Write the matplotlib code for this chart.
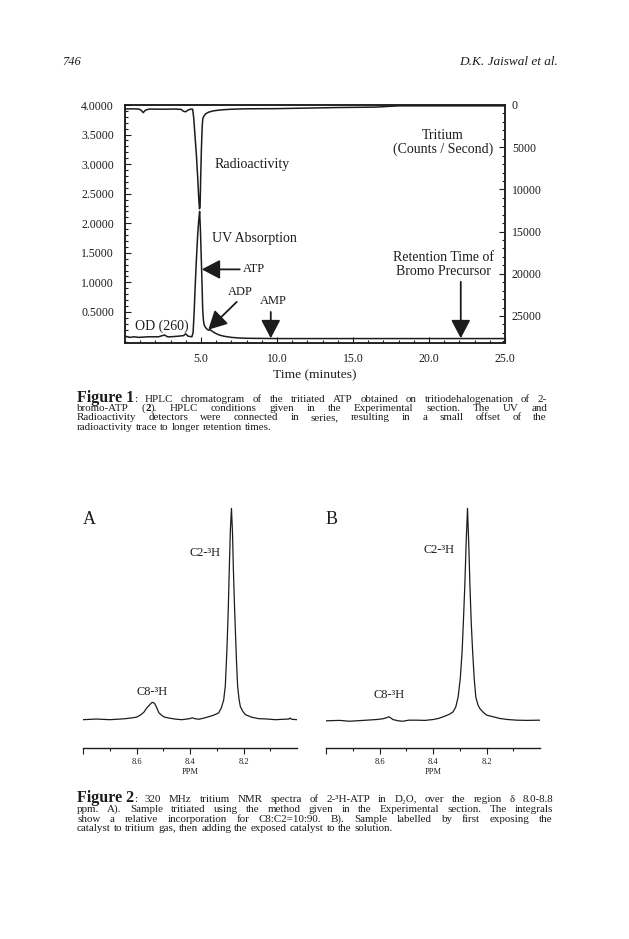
import matplotlib
matplotlib.use('Agg')
import matplotlib.pyplot as plt
from matplotlib.ticker import MultipleLocator, FixedLocator, FormatStrFormatter
from matplotlib.transforms import IdentityTransform

# ---------------- data ----------------
# Figure 1: HPLC, UV trace (OD 260, left axis)
uv_time = [0.0, 0.3, 0.6, 0.9, 1.5, 2.2, 2.6, 2.8, 3.0, 3.5, 3.85, 4.0, 4.15, 4.4,
           4.48, 4.55, 4.62, 4.7, 4.78, 4.85, 4.91, 4.96, 5.02, 5.07, 5.11, 5.16,
           5.22, 5.35, 5.5, 5.6, 5.75, 5.95, 6.2, 6.5, 7.0, 7.5, 8.0, 10.0, 15.0,
           20.0, 25.0]
uv_od = [0.09, 0.07, 0.08, 0.07, 0.08, 0.08, 0.11, 0.08, 0.08, 0.09, 0.10, 0.13,
         0.09, 0.08, 0.15, 0.50, 0.95, 1.40, 1.80, 2.05, 2.20, 1.90, 1.40, 0.95,
         0.55, 0.36, 0.27, 0.22, 0.19, 0.20, 0.17, 0.14, 0.11, 0.09, 0.07, 0.06,
         0.055, 0.05, 0.05, 0.05, 0.05]

# radioactivity trace (counts / second, right axis, inverted)
rad_time = [0.0, 0.5, 0.9, 1.05, 1.2, 1.35, 1.6, 2.5, 3.3, 3.7, 3.85, 4.0, 4.15,
            4.35, 4.45, 4.52, 4.6, 4.7, 4.78, 4.85, 4.9, 4.94, 4.98, 5.03, 5.08,
            5.12, 5.2, 5.3, 5.5, 5.8, 6.3, 7.0, 8.0, 10.0, 14.0, 16.5, 18.0, 25.0]
rad_counts = [480, 450, 480, 600, 900, 600, 480, 500, 480, 520, 750, 800, 600,
              480, 500, 1500, 3500, 6000, 8500, 11000, 12300, 12000, 8500, 5000,
              2500, 1600, 1300, 1050, 850, 700, 580, 500, 450, 430, 300, 250, 100,
              100]

od_ticks = [0.5, 1.0, 1.5, 2.0, 2.5, 3.0, 3.5, 4.0]
count_ticks = [0, 5000, 10000, 15000, 20000, 25000]
time_ticks = [5, 10, 15, 20, 25]

# Figure 2: tritium NMR spectra (relative intensity, C2 peak = 100)
nmr_a_ppm = [8.80, 8.75, 8.70, 8.66, 8.64, 8.62, 8.60, 8.585, 8.572, 8.562, 8.551,
             8.544, 8.538, 8.532, 8.526, 8.516, 8.505, 8.497, 8.48, 8.466, 8.45,
             8.43, 8.40, 8.392, 8.383, 8.367, 8.35, 8.33, 8.31, 8.293, 8.283, 8.274,
             8.268, 8.262, 8.257, 8.253, 8.249, 8.245, 8.241, 8.238, 8.234, 8.230,
             8.226, 8.222, 8.217, 8.212, 8.203, 8.193, 8.17, 8.144, 8.11, 8.082,
             8.05, 8.03, 8.026, 8.02, 8.0]
nmr_a_int = [0.0, 0.3, 0.0, 0.3, 0.5, 0.8, 1.2, 2.2, 3.6, 5.5, 7.0, 8.0, 8.2, 7.6,
             6.1, 3.2, 2.0, 1.3, 0.8, 0.5, 0.2, 0.0, 0.5, 0.9, 0.5, 0.2, 0.7, 1.4,
             2.2, 3.2, 5.5, 9.4, 16.0, 33.0, 52.0, 72.0, 90.0, 100.0, 88.0, 72.0,
             55.0, 41.0, 27.0, 16.0, 10.0, 6.3, 4.0, 2.4, 1.2, 0.5, 0.3, 0.0, 0.2,
             0.3, 0.8, 0.2, 0.0]

nmr_b_ppm = [8.80, 8.75, 8.712, 8.66, 8.612, 8.59, 8.575, 8.565, 8.556, 8.55,
             8.53, 8.513, 8.49, 8.463, 8.43, 8.40, 8.38, 8.362, 8.34, 8.325, 8.315,
             8.306, 8.298, 8.291, 8.286, 8.281, 8.276, 8.271, 8.266, 8.262, 8.257,
             8.252, 8.246, 8.24, 8.232, 8.225, 8.212, 8.2, 8.15, 8.12, 8.087, 8.05,
             8.0]
nmr_b_int = [0.0, 0.2, -0.2, 0.2, 0.6, 0.9, 1.4, 1.9, 1.2, 0.6, 0.0, -0.2, 0.3,
             0.3, 0.2, 0.6, 1.1, 1.9, 3.0, 4.2, 6.5, 11.2, 20.0, 33.0, 48.0, 64.0,
             84.0, 100.0, 82.0, 64.0, 46.0, 33.0, 20.0, 11.2, 7.5, 5.8, 4.0, 2.7,
             1.1, 0.6, 0.3, 0.2, 0.3]

ppm_ticks = [8.8, 8.6, 8.4, 8.2]
ppm_labels = ['', '8.6', '8.4', '8.2']
ppm_minor = [8.7, 8.5, 8.3, 8.1]

cap1 = ['**Figure~1**:  HPLC chromatogram of the tritiated ATP obtained on tritiodehalogenation of 2-',
        'bromo-ATP (**2**).  HPLC conditions given in the Experimental section.  The UV and',
        'Radioactivity detectors were connected in series, resulting in a small offset of the',
        'radioactivity trace to longer retention times.']
cap2 = ['**Figure~2**:  320 MHz tritium NMR spectra of 2-³H-ATP in D₂O, over the region δ 8.0-8.8',
        'ppm.  A).  Sample tritiated using the method given in the Experimental section.  The integrals',
        'show a relative incorporation for C8:C2=10:90.  B).  Sample labelled by first exposing the',
        'catalyst to tritium gas, then adding the exposed catalyst to the solution.']

# ---------------- page ----------------
plt.rcParams['font.family'] = ['Liberation Serif', 'DejaVu Serif']
INK = '#1c1c1c'
W, H = 629, 939
fig = plt.figure(figsize=(W / 100, H / 100), dpi=100)


def box(l, t, r, b):
    return [l / W, 1 - b / H, (r - l) / W, (b - t) / H]


def ptext(x, y, s, **kw):
    # place text by page pixel (y measured from the top)
    return fig.text(x / W, 1 - y / H, s, color=INK, **kw)


ptext(62, 62, '746', fontsize=9, style='italic', va='center')
ptext(558, 62, 'D.K. Jaiswal et al.', fontsize=9.5, style='italic', va='center', ha='right')

############## Figure 1
ax = fig.add_axes(box(125, 105, 505, 343))
ax.plot(uv_time, uv_od, color=INK, lw=1.1)
ax.set_xlim(0, 25)
ax.set_ylim(-0.025, 4.0)
ax.set_yticks(od_ticks)
ax.yaxis.set_major_formatter(FormatStrFormatter('%.4f'))
ax.yaxis.set_minor_locator(MultipleLocator(0.1))
ax.set_xticks(time_ticks)
ax.xaxis.set_major_formatter(FormatStrFormatter('%.1f'))
ax.xaxis.set_minor_locator(MultipleLocator(1))
ax.tick_params(which='both', direction='in', labelsize=8.5, width=0.8, colors=INK)
ax.tick_params(which='major', length=4)
ax.tick_params(which='minor', length=2.5)
ax.tick_params(axis='y', pad=8)
ax.tick_params(axis='x', pad=7)
ax.set_xlabel('Time (minutes)', fontsize=9.7, labelpad=3, color=INK)
for s in ax.spines.values():
    s.set_linewidth(1.1)
    s.set_color(INK)

ax2 = ax.twinx()
ax2.plot(rad_time, rad_counts, color=INK, lw=1.1)
ax2.set_ylim(28200, 0)
ax2.set_yticks(count_ticks)
ax2.yaxis.set_minor_locator(MultipleLocator(1000))
ax2.tick_params(which='both', direction='in', labelsize=8.5, width=0.8, colors=INK, pad=5)
ax2.tick_params(which='major', length=4)
ax2.tick_params(which='minor', length=2.5)
for s in ax2.spines.values():
    s.set_linewidth(1.1)
    s.set_color(INK)

head = dict(arrowstyle='-|>,head_length=0.8,head_width=0.42', mutation_scale=14,
            lw=1.3, color=INK, shrinkA=0, shrinkB=0)
ax.annotate('', xy=(5.05, 1.22), xytext=(7.55, 1.22), arrowprops=head)
ax.annotate('', xy=(5.48, 0.2), xytext=(7.35, 0.67), arrowprops=head)
ax.annotate('', xy=(9.59, 0.055), xytext=(9.59, 0.5), arrowprops=head)
ax.annotate('', xy=(22.09, 0.055), xytext=(22.09, 1.01), arrowprops=head)

ax.text(7.75, 1.22, 'ATP', fontsize=9, va='center', color=INK)
ax.text(7.6, 0.84, 'ADP', fontsize=9, va='center', ha='center', color=INK)
ax.text(9.76, 0.69, 'AMP', fontsize=9, va='center', ha='center', color=INK)
ax.text(20.94, 1.30, 'Retention Time of\nBromo Precursor', fontsize=10, va='center',
        ha='center', linespacing=1.1, color=INK)
ax.text(20.9, 3.37, 'Tritium\n(Counts / Second)', fontsize=10, va='center',
        ha='center', linespacing=1.05, color=INK)
ax.text(5.86, 2.99, 'Radioactivity', fontsize=10, va='center', color=INK)
ax.text(5.7, 1.75, 'UV Absorption', fontsize=10, va='center', color=INK)
ax.text(0.66, 0.26, 'OD (260)', fontsize=10, va='center', color=INK)

############## Figure 2
for l, r, ppm, inten, lo in [(83, 297, nmr_a_ppm, nmr_a_int, -13.4),
                             (326, 540, nmr_b_ppm, nmr_b_int, -12.8)]:
    axn = fig.add_axes(box(l, 505, r, 748))
    axn.plot(ppm, inten, color=INK, lw=0.9)
    axn.set_xlim(8.8, 8.0)
    axn.set_ylim(lo, 101.6)
    for s in ['top', 'left', 'right']:
        axn.spines[s].set_visible(False)
    axn.spines['bottom'].set_linewidth(1.0)
    axn.spines['bottom'].set_color(INK)
    axn.set_yticks([])
    axn.set_xticks(ppm_ticks)
    axn.set_xticklabels(ppm_labels)
    axn.xaxis.set_minor_locator(FixedLocator(ppm_minor))
    axn.tick_params(which='both', direction='out', labelsize=6, width=0.8, colors=INK, pad=3)
    axn.tick_params(which='major', length=4)
    axn.tick_params(which='minor', length=2.5)
    axn.set_xlabel('PPM', fontsize=6, labelpad=2, color=INK)
    axn.patch.set_visible(False)

ptext(83, 520, 'A', fontsize=13, va='center')
ptext(326, 520, 'B', fontsize=13, va='center')
ptext(204.5, 553, 'C2-³H', fontsize=8.8, va='center', ha='center')
ptext(152, 692, 'C8-³H', fontsize=8.8, va='center', ha='center')
ptext(438.7, 550, 'C2-³H', fontsize=8.8, va='center', ha='center')
ptext(389.5, 695, 'C8-³H', fontsize=8.8, va='center', ha='center')

############## captions, justified like the printed page
renderer = fig.canvas.get_renderer()


def caption(lines, x0, x1, baselines, size=7.9, bsize=11.5):
    for i, (line, yb) in enumerate(zip(lines, baselines)):
        words = []
        for w in line.split():
            pieces = []
            for k, part in enumerate(w.split('**')):
                if part:
                    bold = k % 2 == 1
                    fs = bsize if part.startswith('Figure') else size
                    t = fig.text(0, H - yb, part.replace('~', ' '), transform=IdentityTransform(),
                                 fontsize=fs, color=INK,
                                 weight='bold' if bold else 'normal', va='baseline')
                    pieces.append((t, t.get_window_extent(renderer).width))
            words.append(pieces)
        widths = [sum(p[1] for p in w) for w in words]
        if i < len(lines) - 1:
            gap = (x1 - x0 - sum(widths)) / (len(words) - 1)
        else:
            gap = size * 0.27 * 100 / 72
        x = x0
        for w, wd in zip(words, widths):
            xx = x
            for t, pw in w:
                t.set_x(xx)
                xx += pw
            x += wd + gap


caption(cap1, 77, 547, [401.5, 411, 420.5, 430])
caption(cap2, 77, 553, [802.5, 812, 821.5, 831])

fig.savefig('out.png', dpi=100)
